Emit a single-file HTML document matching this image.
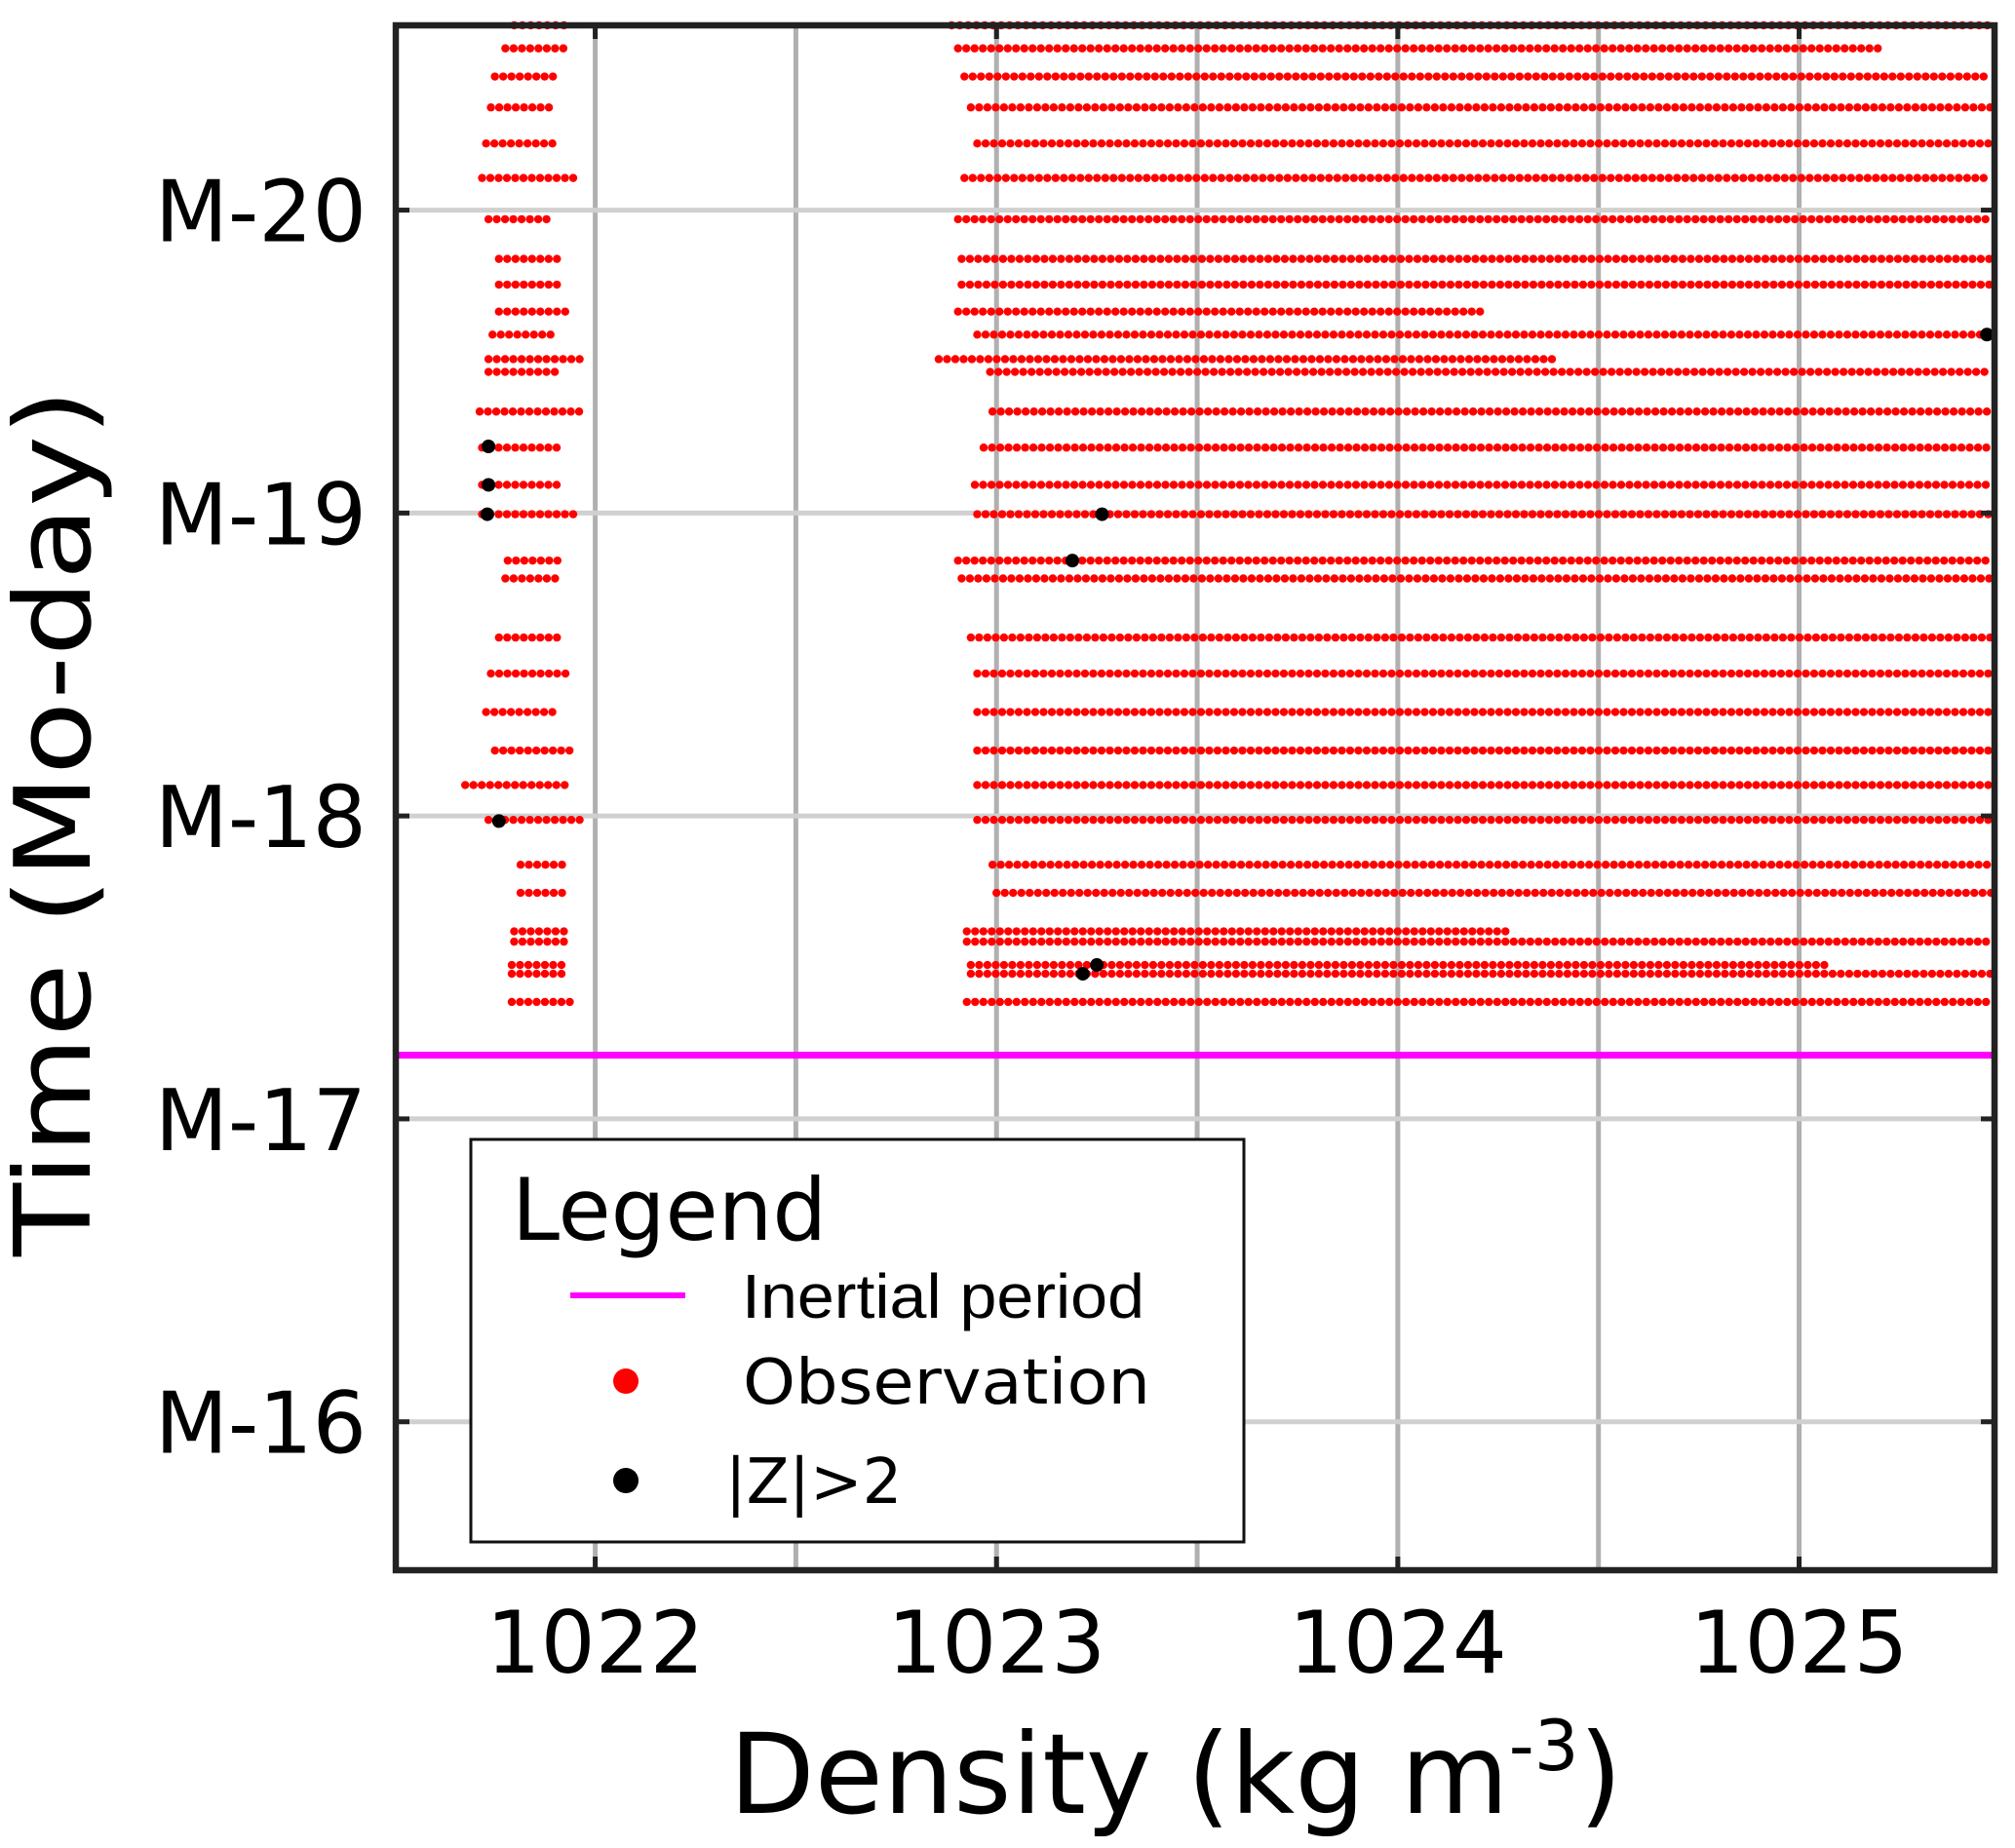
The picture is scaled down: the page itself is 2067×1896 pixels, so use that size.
<!DOCTYPE html>
<html><head><meta charset="utf-8"><style>
html,body{margin:0;padding:0;background:#fff;}
svg{display:block;font-family:"DejaVu Sans","Liberation Sans",sans-serif;}
</style></head><body>
<svg id="chart" width="2067" height="1896" viewBox="0 0 2067 1896" xmlns="http://www.w3.org/2000/svg">
<g id="grid"></g>
<g id="marks"></g>
<g id="axes"></g>
</svg>
<script>
const xTicks=[1022,1023,1024,1025];
const xMinor=[1022.5,1023.5,1024.5];
const yTicks=[20,19,18,17,16];
const yTickLabels=["M-20","M-19","M-18","M-17","M-16"];
const inertialTime=17.21;
const rowTimes=[20.61,20.534,20.441,20.339,20.220,20.106,19.970,19.839,19.754,19.665,19.589,19.508,19.466,19.335,19.216,19.093,18.996,18.843,18.784,18.589,18.470,18.343,18.216,18.102,17.987,17.839,17.746,17.619,17.585,17.508,17.479,17.386];
const rightStart=[1022.888,1022.904,1022.920,1022.936,1022.952,1022.920,1022.904,1022.913,1022.913,1022.904,1022.952,1022.856,1022.984,1022.990,1022.968,1022.946,1022.952,1022.904,1022.913,1022.936,1022.952,1022.952,1022.952,1022.952,1022.952,1022.990,1023.0,1022.926,1022.926,1022.936,1022.936,1022.926];
const rightEnd=[1025.49,1025.21,1025.49,1025.49,1025.49,1025.49,1025.49,1025.49,1025.49,1024.218,1025.49,1024.394,1025.49,1025.49,1025.49,1025.49,1025.49,1025.49,1025.49,1025.49,1025.49,1025.49,1025.49,1025.49,1025.49,1025.49,1025.49,1024.282,1025.49,1025.067,1025.49,1025.49];
const leftStart=[1021.798,1021.776,1021.750,1021.740,1021.728,1021.718,1021.734,1021.760,1021.760,1021.760,1021.744,1021.734,1021.734,1021.712,1021.718,1021.718,1021.718,1021.782,1021.776,1021.760,1021.740,1021.728,1021.750,1021.676,1021.734,1021.814,1021.814,1021.798,1021.798,1021.792,1021.792,1021.792];
const leftEnd=[1021.942,1021.926,1021.910,1021.901,1021.910,1021.952,1021.894,1021.917,1021.910,1021.936,1021.901,1021.974,1021.910,1021.968,1021.917,1021.910,1021.952,1021.926,1021.904,1021.910,1021.936,1021.904,1021.936,1021.926,1021.965,1021.926,1021.936,1021.942,1021.926,1021.926,1021.926,1021.942];
const outX=[1021.734,1021.734,1021.731,1021.760,1023.189,1023.263,1023.215,1023.25,1025.468];
const outT=[19.220,19.093,18.996,17.983,18.843,18.996,17.479,17.508,19.589];

const L=406,R=2046,T=26,B=1611;
const X0=1021.503,X1=1025.487,Y0=15.51,Y1=20.61;
const sx=v=>L+(v-X0)/(X1-X0)*(R-L);
const sy=v=>B-(v-Y0)/(Y1-Y0)*(B-T);
const NS="http://www.w3.org/2000/svg";
function mk(tag,parent,attrs){const e=document.createElementNS(NS,tag);for(const k in attrs)e.setAttribute(k,attrs[k]);parent.appendChild(e);return e;}
const grid=document.getElementById('grid'),marks=document.getElementById('marks'),axes=document.getElementById('axes');
xTicks.concat(xMinor).forEach(v=>{const e=mk('line',grid,{x1:sx(v),x2:sx(v),y1:T,y2:B,stroke:'#b0b0b0','stroke-width':5});

});
yTicks.forEach(v=>{const e=mk('line',grid,{x1:L,x2:R,y1:sy(v),y2:sy(v),stroke:'#d0d0d0','stroke-width':5});

});
const step=8.5;
rowTimes.forEach((t,i)=>{
  const y=sy(t);
  [[leftStart[i],leftEnd[i]],[rightStart[i],rightEnd[i]]].forEach(seg=>{
    const a=sx(seg[0]),b=Math.min(sx(seg[1]),R-3);
    for(let x=a;x<=b;x+=step){const c=mk('circle',marks,{cx:x,cy:y,r:4.2,fill:'#ff0000'});
    
    }
  });
});
outX.forEach((v,i)=>{const c=mk('circle',marks,{cx:sx(v),cy:sy(outT[i]),r:7,fill:'#000'});

});
const il=mk('line',marks,{x1:L,x2:R,y1:sy(inertialTime),y2:sy(inertialTime),stroke:'#ff00ff','stroke-width':7});


const fr=mk('rect',axes,{x:L,y:T,width:R-L,height:B-T,fill:'none',stroke:'#222','stroke-width':6.5});


xTicks.forEach(v=>{
  mk('line',axes,{x1:sx(v),x2:sx(v),y1:B,y2:B-14,stroke:'#222','stroke-width':5});
  mk('line',axes,{x1:sx(v),x2:sx(v),y1:T,y2:T+14,stroke:'#222','stroke-width':5});
  const t=mk('text',axes,{x:sx(v),y:1716,'text-anchor':'middle','font-size':88,fill:'#000'});
  t.textContent=v;
  
  
});
yTicks.forEach((v,i)=>{
  mk('line',axes,{x1:L,x2:L+14,y1:sy(v),y2:sy(v),stroke:'#222','stroke-width':5});
  mk('line',axes,{x1:R,x2:R-14,y1:sy(v),y2:sy(v),stroke:'#222','stroke-width':5});
  const t=mk('text',axes,{x:376,y:sy(v)+32,'text-anchor':'end','font-size':87,fill:'#000'});
  t.textContent=yTickLabels[i];
  
  
});
</script>
<svg style="position:absolute;left:0;top:0" width="2067" height="1896" xmlns="http://www.w3.org/2000/svg">
<text x="748" y="1860" font-size="114" font-family="DejaVu Sans, sans-serif">Density (kg m<tspan font-size="72" dy="-44">-3</tspan><tspan dy="44">)</tspan></text>
<text transform="translate(92,844) rotate(-90)" text-anchor="middle" font-size="108" textLength="890" lengthAdjust="spacingAndGlyphs" font-family="DejaVu Sans, sans-serif">Time (Mo-day)</text>
<g>
<rect x="483" y="1169" width="793" height="413" fill="#fff" stroke="#111" stroke-width="3"/>
<text x="525" y="1272" font-size="88" font-family="DejaVu Sans, sans-serif">Legend</text>
<line x1="585" x2="703" y1="1329" y2="1329" stroke="#ff00ff" stroke-width="6"/>
<text x="761" y="1352" font-size="64" textLength="413" lengthAdjust="spacingAndGlyphs" font-family="Liberation Sans, sans-serif">Inertial period</text>
<circle cx="642" cy="1417" r="13" fill="#ff0000"/>
<text x="762" y="1440" font-size="64" textLength="418" lengthAdjust="spacingAndGlyphs" font-family="DejaVu Sans, sans-serif">Observation</text>
<circle cx="642" cy="1519" r="13" fill="#000"/>
<text x="744" y="1542" font-size="64" font-family="DejaVu Sans, sans-serif">|Z|&gt;2</text>
</g>
</svg>
</body></html>
